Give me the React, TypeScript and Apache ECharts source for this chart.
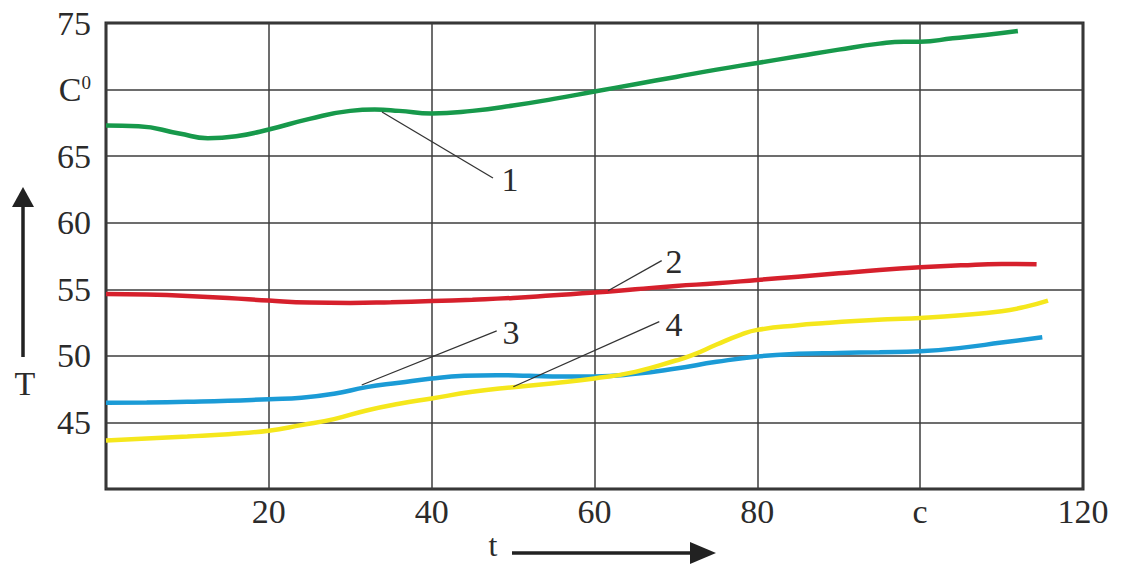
import React, { useEffect, useRef } from "react";
import * as echarts from "echarts";

// ---- data ----
const curve1: [number, number][] = [
  [0, 67.3], [4, 67.25], [9, 66.7], [12.5, 66.35], [16, 66.5], [20, 67.0], [25, 67.8],
  [30, 68.4], [33, 68.5], [36, 68.4], [40, 68.2], [45, 68.4], [50, 68.8], [55, 69.3],
  [60, 69.85], [65, 70.4], [70, 70.95], [75, 71.5], [80, 72.0], [85, 72.5], [90, 73.0],
  [95, 73.45], [98, 73.6], [100, 73.6], [104, 73.85], [108, 74.1], [112, 74.4],
];
const curve2: [number, number][] = [
  [0, 54.65], [5, 54.6], [10, 54.5], [15, 54.35], [20, 54.15], [25, 54.0], [30, 53.97],
  [35, 54.03], [40, 54.12], [45, 54.22], [50, 54.35], [55, 54.55], [60, 54.75], [65, 55.0],
  [70, 55.25], [75, 55.45], [80, 55.7], [85, 55.95], [90, 56.2], [95, 56.45], [100, 56.65],
  [105, 56.8], [110, 56.9], [114.3, 56.88],
];
const curve3: [number, number][] = [
  [0, 46.47], [5, 46.5], [10, 46.55], [15, 46.62], [20, 46.75], [24, 46.85], [28, 47.15],
  [32, 47.65], [36, 47.98], [40, 48.3], [44, 48.5], [48, 48.55], [52, 48.5], [56, 48.45],
  [60, 48.45], [65, 48.65], [70, 49.05], [75, 49.55], [80, 49.95], [85, 50.15], [90, 50.22],
  [95, 50.27], [100, 50.35], [105, 50.6], [110, 51.0], [115, 51.4],
];
const curve4: [number, number][] = [
  [0, 43.65], [5, 43.8], [10, 43.95], [15, 44.12], [20, 44.38], [24, 44.8], [28, 45.25],
  [32, 45.9], [36, 46.4], [40, 46.8], [45, 47.3], [50, 47.65], [55, 47.95], [60, 48.3],
  [65, 48.8], [70, 49.65], [72, 50.05], [75, 50.85], [78, 51.6], [80, 51.95], [85, 52.3],
  [88, 52.45], [92, 52.62], [96, 52.75], [100, 52.85], [105, 53.05], [110, 53.35],
  [113, 53.7], [115.7, 54.15],
];
const seriesNames = ["1", "2", "3", "4"];
const seriesColors = ["#17994b", "#d6202c", "#1b9bd6", "#f5e71c"];

// x tick labels (100 is printed as "c" in the original), y tick labels (70 printed as C⁰)
const xMin = 0, xMax = 120, xStep = 20;
const yMin = 40, yMax = 75, yStep = 5;
const xLabelMap: Record<number, string> = { 0: "", 20: "20", 40: "40", 60: "60", 80: "80", 100: "c", 120: "120" };
const yLabelMap: Record<number, string> = { 40: "", 45: "45", 50: "50", 55: "55", 60: "60", 65: "65", 70: "{c|C}{s|0}", 75: "75" };

// leader lines for the curve numbers, in data coordinates: [from, to, labelPos]
const leaderFrom: [number, number][] = [[33.9, 68.32], [61.66, 54.89], [31.41, 47.81], [50.03, 47.68]];
const leaderTo: [number, number][] = [[47.53, 63.36], [68.25, 57.15], [47.99, 51.87], [67.96, 52.57]];
const leaderLabel: [number, number][] = [[49.62, 63.21], [69.76, 57.12], [49.74, 51.79], [69.76, 52.39]];

const FONT = '"Liberation Serif", "Times New Roman", serif';
const INK = "#2b2b2b";

export default function App() {
  const ref = useRef<HTMLDivElement>(null);
  useEffect(() => {
    if (!ref.current) return;
    const chart = echarts.init(ref.current, undefined, { renderer: "svg" });
    const curves = [curve1, curve2, curve3, curve4];
    chart.setOption({
      animation: false,
      backgroundColor: "#ffffff",
      grid: {
        left: 106, right: 42, top: 23, bottom: 76,
        show: true, borderColor: INK, borderWidth: 3, backgroundColor: "transparent",
      },
      xAxis: {
        type: "value", min: xMin, max: xMax, interval: xStep,
        axisLine: { show: false }, axisTick: { show: false },
        splitLine: { show: true, lineStyle: { color: "#3d3d3d", width: 1.5 } },
        axisLabel: {
          margin: 5, color: INK, fontFamily: FONT, fontSize: 34,
          formatter: (v: number) => xLabelMap[v] ?? String(v),
        },
      },
      yAxis: {
        type: "value", min: yMin, max: yMax, interval: yStep,
        axisLine: { show: false }, axisTick: { show: false },
        splitLine: { show: true, lineStyle: { color: "#3d3d3d", width: 1.5 } },
        axisLabel: {
          margin: 15, color: INK, fontFamily: FONT, fontSize: 34,
          formatter: (v: number) => yLabelMap[v] ?? String(v),
          rich: {
            c: { fontFamily: FONT, fontSize: 34, color: INK },
            s: { fontFamily: FONT, fontSize: 19, color: INK, verticalAlign: "top", padding: [0, 0, 14, 0] },
          },
        },
      },
      series: curves.map((d, i) => ({
        name: seriesNames[i],
        type: "line",
        data: d,
        smooth: 0.5,
        showSymbol: false,
        lineStyle: { color: seriesColors[i], width: 4.5 },
        z: 3,
      })),
    });

    const px = (p: [number, number]) => chart.convertToPixel({ gridIndex: 0 }, p) as number[];
    const graphics: any[] = [];
    for (let i = 0; i < leaderFrom.length; i++) {
      const a = px(leaderFrom[i]);
      const b = px(leaderTo[i]);
      const l = px(leaderLabel[i]);
      graphics.push({
        type: "line", z: 10,
        shape: { x1: a[0], y1: a[1], x2: b[0], y2: b[1] },
        style: { stroke: "#333", lineWidth: 1.3 },
      });
      graphics.push({
        type: "text", z: 10, x: l[0], y: l[1],
        style: { text: seriesNames[i], fontFamily: FONT, fontSize: 34, fill: INK, align: "center", verticalAlign: "middle" },
      });
    }
    // axis arrows and names
    graphics.push(
      { type: "line", shape: { x1: 23, y1: 357, x2: 23, y2: 200 }, style: { stroke: "#222", lineWidth: 3.5 } },
      { type: "polygon", shape: { points: [[23, 187], [12, 207], [34, 207]] }, style: { fill: "#222" } },
      { type: "text", x: 25, y: 383, style: { text: "T", fontFamily: FONT, fontSize: 34, fill: INK, align: "center", verticalAlign: "middle" } },
      { type: "line", shape: { x1: 512, y1: 553, x2: 695, y2: 553 }, style: { stroke: "#222", lineWidth: 3.5 } },
      { type: "polygon", shape: { points: [[716, 553], [690, 542], [690, 564]] }, style: { fill: "#222" } },
      { type: "text", x: 493, y: 545, style: { text: "t", fontFamily: FONT, fontSize: 32, fill: INK, align: "center", verticalAlign: "middle" } },
    );
    chart.setOption({ graphic: graphics });

    return () => chart.dispose();
  }, []);
  return (
    <div
      ref={ref}
      style={{ position: "fixed", left: 0, top: 0, width: 1125, height: 565, background: "#fff" }}
    />
  );
}
